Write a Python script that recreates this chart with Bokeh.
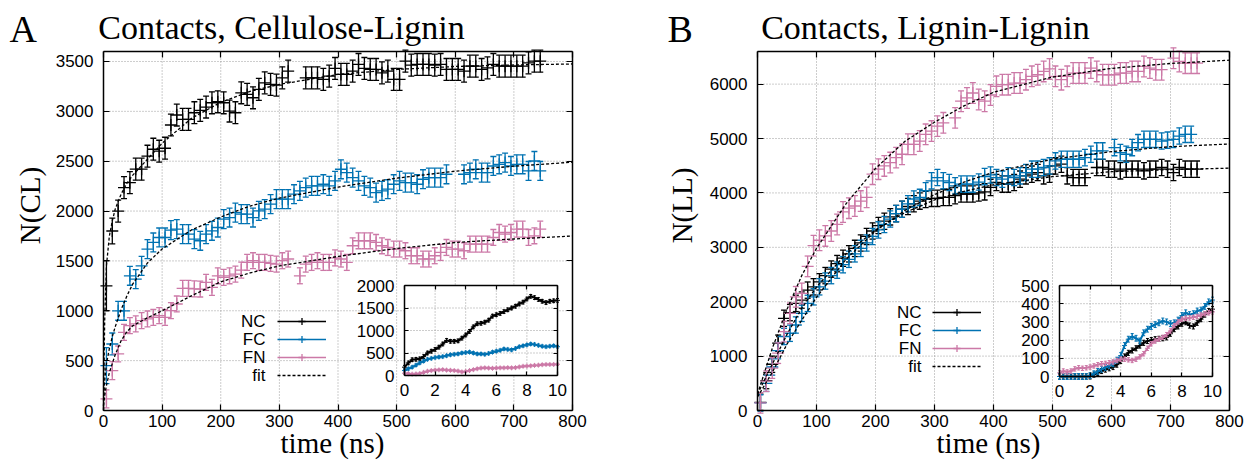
import math
from bokeh.plotting import figure
from bokeh.models import (Range1d, LinearAxis, FixedTicker, Label, Legend, LegendItem)
from bokeh.layouts import row
from bokeh.embed import file_html
from bokeh.resources import INLINE

nan = float("nan")

# ---------------- data ----------------
T = list(range(5, 746, 10))  # time (ns) of the averaged points

A_NC = [1250, 1800, 2000, 2235, 2285, 2420, 2420, 2550, 2620, 2600,
        2630, 2863, 2963, 2920, 2920, 2986, 3010, 3043, 3086, 3096,
        3086, 3003, 2986, 3186, 3170, 3136, 3220, 3286, 3270, 3263,
        3336, 3403, nan, nan, 3336, 3336, 3336, 3320, 3353, 3430,
        3370, 3370, 3403, 3470, 3430, 3420, 3420, 3386, 3403, 3320,
        3320, 3503, 3463, 3470, 3470, 3470, 3463, 3470, 3420, 3420,
        3420, 3403, 3453, 3453, 3420, 3436, 3470, 3453, 3453, 3453,
        3453, 3453, 3486, 3503, 3503]
A_FC = [450, 667, 1000, 1000, 1351, 1318, 1451, 1618, 1685, 1735,
        1735, 1809, 1819, 1769, 1769, 1719, 1702, 1769, 1802, 1835,
        1919, 1935, 1985, 1969, 1969, 1935, 2002, 2019, 2069, 2119,
        2119, 2119, 2169, 2202, 2235, 2252, 2252, 2269, 2252, 2302,
        2419, 2386, 2335, 2302, 2252, 2235, 2185, 2202, 2219, 2269,
        2302, 2285, 2285, 2269, 2319, 2335, 2335, 2335, 2369, nan,
        nan, 2369, 2386, 2419, 2386, 2386, 2452, 2469, 2486, 2452,
        2469, 2469, 2402, 2502, 2402]
A_FN = [117, 400, 567, 784, 851, 868, 901, 918, 934, 951,
        934, 1001, 1068, 1225, 1225, 1220, 1218, 1285, 1235, 1351,
        1335, 1351, 1368, 1408, 1485, 1502, 1485, 1485, 1475, 1468,
        1502, 1519, nan, 1351, 1468, 1485, 1502, 1485, 1485, 1530,
        1519, 1485, 1652, 1702, 1702, 1702, 1685, 1652, 1635, 1619,
        1619, 1602, 1552, 1552, 1519, 1519, 1552, 1585, 1635, 1619,
        1619, 1602, 1669, 1669, 1669, 1669, 1735, 1785, 1769, 1785,
        1819, 1819, 1735, 1752, 1819]
A_NC_ERR = [250, 130] + [110] * 73
A_FC_ERR = [180, 110] + [95] * 73
A_FN_ERR = [90, 90] + [80] * 73

B_NC = [150, 550, 850, 1237, 1695, 1800, 1969, 2030, 2213, 2274,
        2366, 2480, 2600, 2700, 2800, 2880, 2980, 3080, 3200, 3300,
        3400, 3480, 3560, 3620, 3700, 3750, 3800, 3850, 3880, 3900,
        3900, 3918, 3918, 3950, 3980, 3980, 3980, 4000, 4020, 4101,
        4192, 4162, 4162, 4192, 4253, 4314, 4345, 4375, 4314, 4345,
        4497, 4528, 4314, 4283, 4283, 4283, nan, 4467, 4467, 4437,
        4437, 4406, 4437, 4437, 4437, 4406, 4437, 4437, 4467, 4437,
        4375, 4467, 4437, 4437, 4437]
B_FC = [140, 500, 800, 1100, 1360, 1420, 1572, 1786, 1969, 2090,
        2274, 2380, 2480, 2580, 2680, 2780, 2880, 2980, 3080, 3200,
        3320, 3420, 3520, 3620, 3700, 3800, 3888, 3918, 4040, 4223,
        4283, 4223, 4192, 4131, 4162, 4162, 4162, 4200, 4300, 4330,
        4283, 4253, 4314, 4283, 4314, 4375, 4437, 4437, 4467, 4497,
        4589, 4619, 4619, 4619, 4619, 4649, 4711, 4772, 4772, nan,
        4833, 4741, 4711, 4833, 4924, 4985, 4985, 4985, 4954, 4970,
        4985, 5046, 5077, 5077, nan]
B_FN = [140, 540, 780, 1055, 1450, 1786, 2090, 2152, 2650, 3030,
        3130, 3210, 3300, 3420, 3650, 3720, 3760, 3850, 3918, 4345,
        4437, 4497, 4558, 4649, 4711, 4894, 4894, 4954, 5077, 5137,
        5228, 5289, nan, 5380, 5686, 5746, 5837, 5717, 5686, 5800,
        5960, 5990, 5990, 6020, 6020, 6082, 6143, 6173, 6234, 6280,
        6143, 6082, 6143, 6204, 6204, 6204, 6295, 6234, 6173, 6173,
        6173, 6204, 6204, 6234, 6234, 6325, 6295, 6265, 6265, nan,
        6477, 6417, 6386, 6386, 6386]
B_NC_ERR = [150] * 75
B_FC_ERR = [150] * 75
B_FN_ERR = [190] * 75

FIT_T_A = [0, 2, 5, 10, 15, 20, 30, 40, 50, 75, 100, 150, 200, 250, 300, 400, 500, 600, 700, 800]
A_NC_FIT = [0, 900, 1450, 1750, 1900, 2020, 2170, 2280, 2360, 2520, 2680, 2930, 3090, 3200, 3270, 3370, 3420, 3450, 3465, 3475]
A_FC_FIT = [100, 300, 470, 620, 740, 840, 1010, 1150, 1270, 1480, 1620, 1810, 1940, 2050, 2130, 2240, 2330, 2400, 2450, 2490]
A_FN_FIT = [50, 150, 250, 380, 470, 560, 700, 790, 850, 930, 1000, 1150, 1290, 1380, 1450, 1545, 1625, 1685, 1720, 1750]

FIT_T_B = [0, 25, 50, 75, 100, 150, 200, 250, 300, 350, 400, 500, 600, 700, 800]
B_NC_FIT = [300, 850, 1400, 1880, 2270, 2880, 3320, 3640, 3870, 4030, 4150, 4300, 4390, 4430, 4455]
B_FC_FIT = [250, 700, 1220, 1660, 2080, 2780, 3300, 3680, 3970, 4200, 4380, 4620, 4760, 4850, 4900]
B_FN_FIT = [300, 1140, 1860, 2480, 2980, 3800, 4450, 4950, 5300, 5600, 5850, 6130, 6290, 6380, 6440]

INSET_T = [i * 0.25 for i in range(41)]
A_INSET_NC = [185, 280, 350, 360, 370, 420, 500, 540, 580, 630, 700, 780, 760, 760, 770, 830, 900, 980, 1080, 1150,
              1160, 1185, 1230, 1320, 1350, 1380, 1420, 1460, 1500, 1540, 1590, 1630, 1700, 1760, 1730, 1690, 1650,
              1620, 1650, 1660, 1670]
A_INSET_FC = [110, 150, 185, 230, 280, 320, 360, 380, 400, 410, 420, 440, 460, 470, 480, 500, 510, 520, 500, 480,
              480, 470, 490, 520, 540, 560, 590, 580, 570, 600, 640, 660, 680, 700, 690, 670, 650, 640, 650, 660, 640]
A_INSET_FN = [50, 40, 30, 35, 45, 70, 95, 110, 120, 125, 130, 120, 115, 110, 100, 80, 90, 110, 130, 150,
              165, 170, 165, 160, 165, 170, 170, 175, 170, 175, 190, 205, 210, 215, 225, 230, 240, 245, 245, 245, 250]
B_INSET_NC = [0, 0, 0, 0, 0, 0, 0, 0, 0, 10, 20, 30, 38, 45, 52, 65, 85, 110, 130, 143,
              155, 170, 185, 195, 200, 205, 207, 210, 215, 235, 260, 275, 290, 298, 280, 275, 295, 315, 340, 360, 370]
B_INSET_FC = [0, 0, 0, 0, 0, 0, 0, 0, 5, 15, 28, 40, 50, 60, 70, 90, 115, 170, 205, 220,
              210, 195, 240, 260, 275, 285, 295, 305, 300, 290, 295, 310, 335, 350, 340, 345, 360, 365, 385, 410, 420]
B_INSET_FN = [20, 30, 25, 30, 42, 48, 45, 48, 52, 58, 65, 70, 72, 76, 80, 88, 95, 95, 92, 88,
              95, 108, 125, 155, 180, 195, 205, 215, 230, 250, 280, 300, 315, 320, 322, 325, 330, 338, 345, 350, 355]
A_INSET_ERR = [40, 30, 25]
B_INSET_ERR = [14, 16, 12]

X_TICKS = [0, 100, 200, 300, 400, 500, 600, 700, 800]
A_Y_TICKS = [0, 500, 1000, 1500, 2000, 2500, 3000, 3500]
B_Y_TICKS = [0, 1000, 2000, 3000, 4000, 5000, 6000]
INSET_X_TICKS = [0, 2, 4, 6, 8, 10]
A_INSET_Y_TICKS = [0, 500, 1000, 1500, 2000]
B_INSET_Y_TICKS = [0, 100, 200, 300, 400, 500]
SERIES_NAMES = ["NC", "FC", "FN", "fit"]

# ---------------- style ----------------
BLACK = "#000000"
BLUE = "#0072B2"
PINK = "#CC79A7"
SANS = "Liberation Sans"
SERIF = "Liberation Serif"
GRID = "#9a9a9a"
H = 471


def errorbars(p, t, v, err, color, cap, cross, lw, xr="default", yr="default"):
    xs, ys, lo, hi = [], [], [], []
    for ti, vi, ei in zip(t, v, err):
        if vi != vi:
            continue
        xs.append(ti)
        ys.append(vi)
        lo.append(vi - ei)
        hi.append(vi + ei)
    seg = p.segment(x0=xs, y0=lo, x1=xs, y1=hi, line_color=color, line_width=lw,
                    x_range_name=xr, y_range_name=yr)
    p.scatter(x=xs + xs, y=lo + hi, marker="dash", size=cap, line_color=color,
              line_width=lw, x_range_name=xr, y_range_name=yr)
    cr = p.scatter(x=xs, y=ys, marker="cross", size=cross, line_color=color,
                   line_width=lw, x_range_name=xr, y_range_name=yr)
    return seg, cr


def add_box_axes(p, xticks, yticks, xlim, ylim, tick_len, x_standoff, y_standoff, **kw):
    """Four axes pinned to the edges of a data box (ticks pointing inward)."""
    specs = [("below", xlim, ylim[0], xticks, True, x_standoff),
             ("left", ylim, xlim[0], yticks, True, y_standoff),
             ("above", xlim, ylim[1], xticks, False, 0),
             ("right", ylim, xlim[1], yticks, False, 0)]
    for side, bounds, loc, ticks, labels, standoff in specs:
        ax = LinearAxis(fixed_location=loc, bounds=bounds, **kw)
        ax.ticker = FixedTicker(ticks=ticks)
        ax.major_tick_in = tick_len
        ax.major_tick_out = 0
        ax.minor_tick_line_color = None
        ax.axis_line_width = 1.5
        ax.axis_line_color = BLACK
        ax.major_tick_line_width = 1.2
        ax.major_tick_line_color = BLACK
        ax.major_label_text_font = SANS
        ax.major_label_text_font_size = "17px"
        ax.major_label_text_color = BLACK if labels else None
        ax.major_label_standoff = standoff
        p.add_layout(ax, side)


def grid_lines(p, xticks, yticks, xlim, ylim, **kw):
    gx = [t for t in xticks if xlim[0] < t < xlim[1]]
    gy = [t for t in yticks if ylim[0] < t < ylim[1]]
    p.segment(x0=gx, y0=[ylim[0]] * len(gx), x1=gx, y1=[ylim[1]] * len(gx),
              line_color=GRID, line_dash="1 2", line_width=1, **kw)
    p.segment(x0=[xlim[0]] * len(gy), y0=gy, x1=[xlim[1]] * len(gy), y1=gy,
              line_color=GRID, line_dash="1 2", line_width=1, **kw)


def text(p, x, y, s, size, font, align="center", angle=0.0):
    # x, y are canvas pixels (y down); the frame fills the whole canvas
    p.add_layout(Label(x=x, y=H - y, x_units="screen", y_units="screen", text=s,
                       text_align=align, text_baseline="middle", angle=angle,
                       text_color=BLACK, text_font=font, text_font_size=size))


def make_panel(width, box, ymax, yticks, series, fit_t, fits, letter, title,
               letter_x, title_cx, ylabel, ylabel_x, xlabel_cx, leg_text_right, leg_x0, leg_top,
               inset_px, inset_ymax, inset_yticks, inset_series):
    bl, br, bt, bb = box          # plot box edges in canvas pixels
    xmax = X_TICKS[-1]
    sx = (br - bl) / float(xmax)
    sy = (bb - bt) / float(ymax)
    p = figure(width=width, height=H,
               x_range=Range1d(-bl / sx, xmax + (width - br) / sx),
               y_range=Range1d(-(H - bb) / sy, ymax + bt / sy),
               output_backend="svg", toolbar_location=None, title=None,
               x_axis_location=None, y_axis_location=None,
               min_border_left=0, min_border_right=0, min_border_top=0, min_border_bottom=0)
    p.background_fill_color = "white"
    p.border_fill_color = "white"
    p.outline_line_color = None
    p.xgrid.visible = False
    p.ygrid.visible = False

    grid_lines(p, X_TICKS, yticks, (0, xmax), (0, ymax))

    handles = []
    for vals, err, color in series:
        handles.append(errorbars(p, T, vals, err, color, cap=6, cross=12, lw=1.3))
    fit_r = None
    for fv in fits:
        fit_r = p.line(fit_t, fv, line_color=BLACK, line_width=1.3, line_dash="3 2")

    add_box_axes(p, X_TICKS, yticks, (0, xmax), (0, ymax), 6, 4, 10)

    # ---- inset: its own ranges mapped onto a sub-rectangle of the canvas ----
    ixl, ixr, iyb, iyt = inset_px
    isx = (ixr - ixl) / float(INSET_X_TICKS[-1])
    p.extra_x_ranges = {"ix": Range1d(-ixl / isx, (width - ixl) / isx)}
    isy = (iyb - iyt) / float(inset_ymax)
    p.extra_y_ranges = {"iy": Range1d(-(H - iyb) / isy, iyb / isy)}
    kw = dict(x_range_name="ix", y_range_name="iy")
    x0i, x1i = INSET_X_TICKS[0], INSET_X_TICKS[-1]
    y0i, y1i = inset_yticks[0], inset_yticks[-1]
    p.quad(left=[x0i], right=[x1i], bottom=[y0i], top=[y1i], fill_color="white",
           line_color=None, **kw)
    grid_lines(p, INSET_X_TICKS, inset_yticks, (x0i, x1i), (y0i, y1i), **kw)
    for vals, err, color in inset_series:
        p.line(INSET_T, vals, line_color=color, line_width=2, **kw)
        errorbars(p, INSET_T, vals, [err] * len(vals), color, cap=3, cross=5, lw=1, xr="ix", yr="iy")
    add_box_axes(p, INSET_X_TICKS, inset_yticks, (x0i, x1i), (y0i, y1i), 4, 8, 10, **kw)

    # ---- legend: samples from Bokeh's legend, names as text to their left ----
    row_h = 18
    items = [LegendItem(label=" ", renderers=[h[0], h[1]]) for h in handles]
    items.append(LegendItem(label=" ", renderers=[fit_r]))
    leg = Legend(items=items, location=(leg_x0, H - (leg_top + row_h * len(items))),
                 glyph_width=49, glyph_height=row_h, spacing=0, padding=0, margin=0,
                 label_width=0, label_standoff=0, label_height=row_h,
                 label_text_font_size="10px", border_line_color=None,
                 background_fill_alpha=0)
    p.add_layout(leg)
    for i, name in enumerate(SERIES_NAMES):
        text(p, leg_text_right, leg_top + row_h / 2 + row_h * i, name, "17px", SANS, align="right")

    # ---- axis titles, panel letter and title ----
    text(p, xlabel_cx, 442, "time (ns)", "29px", SERIF)
    text(p, ylabel_x, 205, ylabel, "29px", SERIF, angle=math.pi / 2)
    text(p, letter_x, 28, letter, "38px", SERIF, align="left")
    text(p, title_cx, 27, title, "34px", SERIF)
    return p


pA = make_panel(620, (103, 572, 51, 410), 3600, A_Y_TICKS,
                [(A_NC, A_NC_ERR, BLACK), (A_FC, A_FC_ERR, BLUE), (A_FN, A_FN_ERR, PINK)],
                FIT_T_A, [A_NC_FIT, A_FC_FIT, A_FN_FIT],
                "A", "Contacts, Cellulose-Lignin", 9, 281, "N(CL)", 29, 332,
                265, 277, 312,
                (404, 557, 375, 285), 2000, A_INSET_Y_TICKS,
                [(A_INSET_NC, A_INSET_ERR[0], BLACK), (A_INSET_FC, A_INSET_ERR[1], BLUE),
                 (A_INSET_FN, A_INSET_ERR[2], PINK)])

pB = make_panel(627, (137, 609, 51, 410), 6600, B_Y_TICKS,
                [(B_NC, B_NC_ERR, BLACK), (B_FC, B_FC_ERR, BLUE), (B_FN, B_FN_ERR, PINK)],
                FIT_T_B, [B_NC_FIT, B_FC_FIT, B_FN_FIT],
                "B", "Contacts, Lignin-Lignin", 47, 305, "N(LL)", 61, 368,
                301, 312, 303,
                (439, 592, 376, 285), 500, B_INSET_Y_TICKS,
                [(B_INSET_NC, B_INSET_ERR[0], BLACK), (B_INSET_FC, B_INSET_ERR[1], BLUE),
                 (B_INSET_FN, B_INSET_ERR[2], PINK)])

layout = row(pA, pB)
open("out.html", "w").write(file_html(layout, INLINE))
